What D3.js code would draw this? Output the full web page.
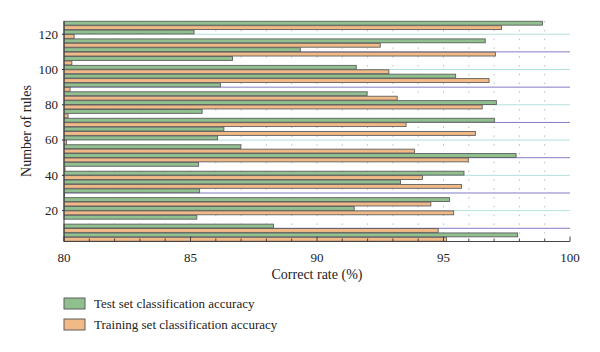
<!DOCTYPE html>
<html lang="en">
<head>
  <meta charset="UTF-8">
  <style type="text/css">
    body {margin:0; background:#fff;}
    text {font-family: "Liberation Serif", "DejaVu Serif", serif; fill:#222;}
    .tick-label {font-size:13px;}
    .label {font-size:14px;}
    .legend {font-size:13px;}
  </style>
  <title>Correct rate</title>
</head>
<body>
  <svg id="chart" width="600" height="352"></svg>

  <script src="https://d3js.org/d3.v7.min.js"></script>
  <script type="text/javascript">
    // number of rules (bottom to top)
    var rules = [5, 10, 15, 20, 25, 30, 35, 40, 45, 50, 55, 60, 65,
                 70, 75, 80, 85, 90, 95, 100, 105, 110, 115, 120, 125];
    var testAcc = [97.93, 88.28, 85.25, 91.47, 95.24, 85.36, 93.30, 95.81, 85.32, 97.87, 86.99, 86.07, 86.32,
                   97.01, 85.46, 97.09, 91.98, 86.18, 95.48, 91.55, 86.66, 89.34, 96.65, 85.14, 98.91];
    var trainAcc = [95.12, 94.79, 80.00, 95.40, 94.50, 80.02, 95.71, 94.17, 80.04, 95.98, 93.85, 80.10, 96.26,
                    93.52, 80.16, 96.53, 93.17, 80.24, 96.80, 92.84, 80.31, 97.05, 92.50, 80.40, 97.29];
    var xTicks = [80, 85, 90, 95, 100];
    var yTicks = [20, 40, 60, 80, 100, 120];
    var gridLines = [10, 20, 30, 40, 50, 60, 70, 80, 90, 100, 110, 120];
    var seriesNames = ["Test set classification accuracy", "Training set classification accuracy"];
    var seriesColors = ["#8fc08e", "#f1b985"];

    var svg = d3.select("#chart");
    var plot = {left: 64, right: 570, top: 21, bottom: 241.5};

    var x = d3.scaleLinear().domain([80, 100]).range([plot.left, plot.right]);
    var y = d3.scaleLinear().domain([2.5, 127.5]).range([plot.bottom, plot.top]);
    var step = y(0) - y(5);
    var inner = d3.scaleBand().domain([0, 1]).range([-step / 2, step / 2])
        .paddingInner(0.12).paddingOuter(0.06);

    // vertical dotted grid
    svg.append("g").selectAll("line")
      .data(d3.range(81, 100))
      .enter().append("line")
        .attr("x1", d => x(d)).attr("x2", d => x(d))
        .attr("y1", plot.top).attr("y2", plot.bottom)
        .attr("stroke", "#bdbdbd")
        .attr("stroke-width", 1)
        .attr("stroke-dasharray", "1.5,7.3");

    // horizontal grid
    svg.append("g").selectAll("line")
      .data(gridLines)
      .enter().append("line")
        .attr("x1", plot.left).attr("x2", plot.right)
        .attr("y1", d => y(d)).attr("y2", d => y(d))
        .attr("stroke", d => d % 20 === 0 ? "#b3e0dc" : "#847cc6")
        .attr("stroke-width", 1);

    // bars
    var rows = rules.map(function(r, i) { return {r: r, vals: [testAcc[i], trainAcc[i]]}; });
    var groups = svg.append("g").selectAll("g")
      .data(rows)
      .enter().append("g")
        .attr("transform", d => "translate(0," + y(d.r) + ")");

    groups.selectAll("rect")
      .data(d => d.vals)
      .enter().append("rect")
        .attr("x", x(80))
        .attr("y", (d, i) => inner(i))
        .attr("width", d => x(d) - x(80))
        .attr("height", inner.bandwidth())
        .attr("fill", (d, i) => seriesColors[i])
        .attr("stroke", "#5f5f5f")
        .attr("stroke-width", 0.9);

    // x axis
    var xAxis = svg.append("g").attr("transform", "translate(0," + plot.bottom + ")");
    xAxis.append("line").attr("x1", plot.left).attr("x2", plot.right).attr("stroke", "#444");
    xAxis.selectAll(".minor")
      .data(d3.range(80, 101))
      .enter().append("line")
        .attr("x1", d => x(d)).attr("x2", d => x(d))
        .attr("y1", 0).attr("y2", d => d % 5 === 0 ? -5 : -3)
        .attr("stroke", "#444");
    xAxis.selectAll("text")
      .data(xTicks)
      .enter().append("text")
        .attr("class", "tick-label")
        .attr("x", d => x(d)).attr("y", 20)
        .attr("text-anchor", "middle")
        .text(d => d);

    // y axis
    var yAxis = svg.append("g");
    yAxis.append("line").attr("x1", plot.left).attr("x2", plot.left)
      .attr("y1", plot.top).attr("y2", plot.bottom).attr("stroke", "#333");
    yAxis.selectAll(".tk")
      .data(yTicks)
      .enter().append("line")
        .attr("x1", plot.left - 2).attr("x2", plot.left)
        .attr("y1", d => y(d)).attr("y2", d => y(d))
        .attr("stroke", "#333");
    yAxis.selectAll("text")
      .data(yTicks)
      .enter().append("text")
        .attr("class", "tick-label")
        .attr("x", plot.left - 6).attr("y", d => y(d))
        .attr("dy", "0.34em")
        .attr("text-anchor", "end")
        .text(d => d);

    // axis titles
    svg.append("text")
      .attr("class", "label")
      .attr("x", (plot.left + plot.right) / 2).attr("y", 279)
      .attr("text-anchor", "middle")
      .text("Correct rate (%)");

    svg.append("text")
      .attr("class", "label")
      .attr("transform", "translate(31,131) rotate(-90)")
      .attr("text-anchor", "middle")
      .text("Number of rules");

    // legend
    var legend = svg.append("g").selectAll("g")
      .data(seriesNames)
      .enter().append("g")
        .attr("transform", (d, i) => "translate(64," + (298 + i * 21) + ")");
    legend.append("rect")
      .attr("width", 21).attr("height", 11)
      .attr("fill", (d, i) => seriesColors[i])
      .attr("stroke", "#5f5f5f");
    legend.append("text")
      .attr("class", "legend")
      .attr("x", 30).attr("y", 5.5).attr("dy", "0.35em")
      .text(d => d);
  </script>
</body>
</html>
